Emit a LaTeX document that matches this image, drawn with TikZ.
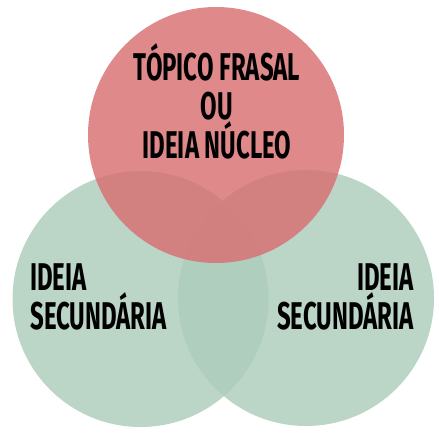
\documentclass[tikz,border=0pt]{standalone}
\usepackage{fontspec}
\setmainfont{Fira Sans}[FakeStretch=0.62]
\usepackage{xcolor}
\usepackage{tikz}
\usetikzlibrary{positioning}

\definecolor{sage}{RGB}{172,204,187}
\definecolor{rose}{RGB}{217,111,113}

\tikzset{
  idea/.style={circle,minimum size=256*0.02cm,inner sep=0,fill=#1,fill opacity=0.82},
  caption/.style={inner sep=0,font=\bfseries\fontsize{22}{22.2}\selectfont,text opacity=1}
}

\begin{document}
\begin{tikzpicture}[x=0.02cm,y=-0.02cm]
  \useasboundingbox (0,0) rectangle (439,435);
  \node[idea=sage] (left) at (140.5,299) {};
  \node[idea=sage] (right) at (306,298) {};
  \node[idea=rose] (core) at (216,135) {};
  \node[caption,align=center] (coretext) at (217,101) {TÓPICO FRASAL\\OU\\IDEIA NÚCLEO};
  \node[caption,align=left,anchor=west] (lefttext) at (30,297) {IDEIA\\SECUNDÁRIA};
  \node[caption,align=right,anchor=east] (righttext) at (414,297) {IDEIA\\SECUNDÁRIA};
\end{tikzpicture}
\end{document}
